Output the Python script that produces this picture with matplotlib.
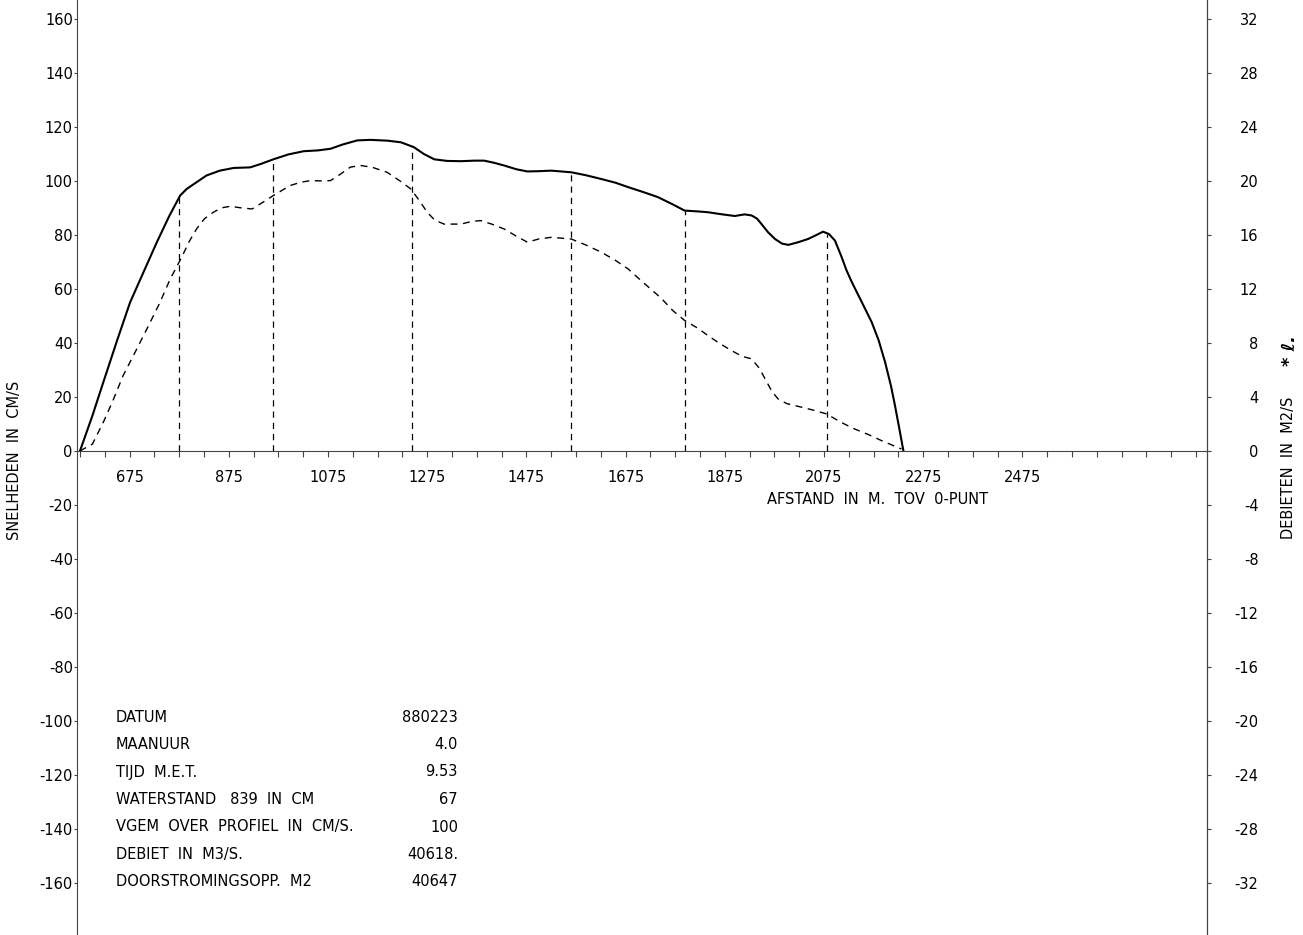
import numpy as np
import matplotlib
matplotlib.use("Agg")
import matplotlib.pyplot as plt

plt.rcParams['font.family'] = ['DejaVu Sans']

# Velocity profile (solid), cm/s
afstand_v = [575, 600, 622, 650, 676, 705, 730, 755, 777, 790, 810, 830, 857, 885,
             918, 940, 965, 995, 1026, 1055, 1080, 1105, 1134, 1161, 1195, 1222, 1248,
             1268, 1289, 1315, 1343, 1370, 1390, 1410, 1430, 1455, 1477, 1500, 1525,
             1565, 1595, 1626, 1655, 1680, 1710, 1740, 1770, 1794, 1820, 1841, 1870,
             1895, 1915, 1929, 1940, 1949, 1962, 1976, 1990, 2003, 2023, 2043, 2060,
             2073, 2085, 2097, 2110, 2120, 2131, 2150, 2171, 2185, 2198, 2210, 2218,
             2228, 2235]
snelheid = [0, 13, 25.4, 41, 55, 67, 77.3, 87, 94.6, 97, 99.5, 102, 103.8, 104.8,
            105, 106.3, 108, 109.8, 111, 111.3, 111.9, 113.5, 115, 115.2, 114.9, 114.3, 112.5,
            110, 108, 107.4, 107.3, 107.5, 107.5, 106.7, 105.7, 104.3, 103.5, 103.6, 103.8,
            103.2, 102.1, 100.7, 99.3, 97.7, 95.9, 94, 91.3, 89, 88.7, 88.4, 87.6,
            87, 87.6, 87.2, 86, 84, 81, 78.5, 76.8, 76.3, 77.3, 78.5, 80,
            81.2, 80.3, 77.9, 72, 67, 62.5, 55.5, 47.7, 41, 32.9, 24, 16.8,
            7, 0]

# Discharge per metre (dashed), m2/s
afstand_q = [575, 600, 622, 640, 662, 686, 710, 735, 757, 780, 795, 810, 826, 844,
             860, 878, 900, 922, 943, 965, 999, 1020, 1040, 1060, 1080, 1100, 1120,
             1141, 1165, 1194, 1220, 1242, 1258, 1275, 1290, 1309, 1343, 1365, 1383,
             1405, 1430, 1455, 1477, 1500, 1525, 1565, 1595, 1626, 1655, 1680, 1706,
             1747, 1770, 1794, 1820, 1841, 1865, 1888, 1910, 1929, 1945, 1956, 1970,
             1982, 2000, 2016, 2050, 2080, 2110, 2137, 2165, 2191, 2231]
debiet = [0, 0.5, 2.12, 3.6, 5.58, 7.3, 9.04, 10.9, 12.74, 14.34, 15.5, 16.44, 17.2, 17.68,
          18.0, 18.12, 18.0, 17.92, 18.4, 18.92, 19.66, 19.9, 20.02, 20.0, 20.02, 20.5, 21.02,
          21.14, 21.0, 20.64, 20.0, 19.4, 18.6, 17.68, 17.1, 16.8, 16.8, 17.0, 17.06,
          16.8, 16.44, 15.9, 15.46, 15.7, 15.82, 15.7, 15.25, 14.72, 14.1, 13.48, 12.62,
          11.3, 10.4, 9.66, 9.1, 8.54, 7.95, 7.44, 7.0, 6.82, 6.1, 5.34, 4.4,
          3.86, 3.5, 3.36, 3.05, 2.74, 2.1, 1.62, 1.2, 0.76, 0.14]

# Measurement verticals
verticalen = [775, 965, 1245, 1565, 1795, 2080]
vert_top = [95, 108, 112.7, 103.2, 89, 80.5]

x_ticks = list(range(575, 2826, 50))
x_labels = [str(t) if (t - 675) % 200 == 0 and 675 <= t <= 2475 else '' for t in x_ticks]
y_left = list(range(-160, 161, 20))
y_right = list(range(-32, 33, 4))

info_labels = ['DATUM', 'MAANUUR', 'TIJD  M.E.T.', 'WATERSTAND   839  IN  CM',
               'VGEM  OVER  PROFIEL  IN  CM/S.', 'DEBIET  IN  M3/S.', 'DOORSTROMINGSOPP.  M2']
info_values = ['880223', '4.0', '9.53', '67', '100', '40618.', '40647']

fs = 10.5
fig = plt.figure(figsize=(13.03, 9.35), dpi=100)
ax = fig.add_axes([77 / 1303, 0, 1130 / 1303, 1])
ax.set_xlim(569, 2847)
ax.set_ylim(-179.3, 167.0)

axis_col = '#444444'
ax.spines['top'].set_visible(False)
ax.spines['bottom'].set_position(('data', 0))
for s in ['bottom', 'left', 'right']:
    ax.spines[s].set_color(axis_col)
    ax.spines[s].set_linewidth(0.8)

ax.plot(afstand_v, snelheid, color='black', lw=1.5)
ax.vlines(verticalen, 0, vert_top, colors='black', linestyles=(0, (5, 4)), lw=0.9)

ax.set_xticks(x_ticks)
ax.set_xticklabels(x_labels)
ax.tick_params(axis='x', direction='out', length=4, width=0.8, pad=10,
               labelsize=fs, color=axis_col)
ax.set_yticks(y_left)
ax.set_yticklabels([str(v) for v in y_left])
ax.tick_params(axis='y', direction='out', length=2, width=0.8, pad=1,
               labelsize=fs, color=axis_col)

ax2 = ax.twinx()
ax2.set_ylim(-179.3 / 5, 167.0 / 5)
for s in ['top', 'bottom', 'left']:
    ax2.spines[s].set_visible(False)
ax2.spines['right'].set_color(axis_col)
ax2.spines['right'].set_linewidth(0.8)
ax2.plot(afstand_q, debiet, color='black', lw=1.0, linestyle=(0, (5, 4)))
ax2.set_yticks(y_right)
ax2.set_yticklabels([str(v) for v in y_right])
ax2.tick_params(axis='y', direction='out', length=3, width=0.8, pad=34,
                labelsize=fs, color=axis_col)
for lab in ax2.get_yticklabels():
    lab.set_horizontalalignment('right')

ax.text(1960, -18, 'AFSTAND  IN  M.  TOV  0-PUNT', fontsize=fs, ha='left', va='center')

fig.text(15 / 1303, 1 - 460 / 935, 'SNELHEDEN  IN  CM/S', rotation=90,
         ha='center', va='center', fontsize=fs)
fig.text(1288 / 1303, 1 - 468 / 935, 'DEBIETEN  IN  M2/S', rotation=90,
         ha='center', va='center', fontsize=fs)
fig.text(1290 / 1303, 1 - 350 / 935, '* ℓ.', rotation=90,
         ha='center', va='center', fontsize=13, fontweight='bold', style='italic')

row_y0 = 717
for i, (lab, val) in enumerate(zip(info_labels, info_values)):
    y = 1 - (row_y0 + i * 27.5) / 935
    fig.text(116 / 1303, y, lab, ha='left', va='center', fontsize=fs)
    fig.text(458 / 1303, y, val, ha='right', va='center', fontsize=fs)

fig.savefig('out.png', dpi=100)
